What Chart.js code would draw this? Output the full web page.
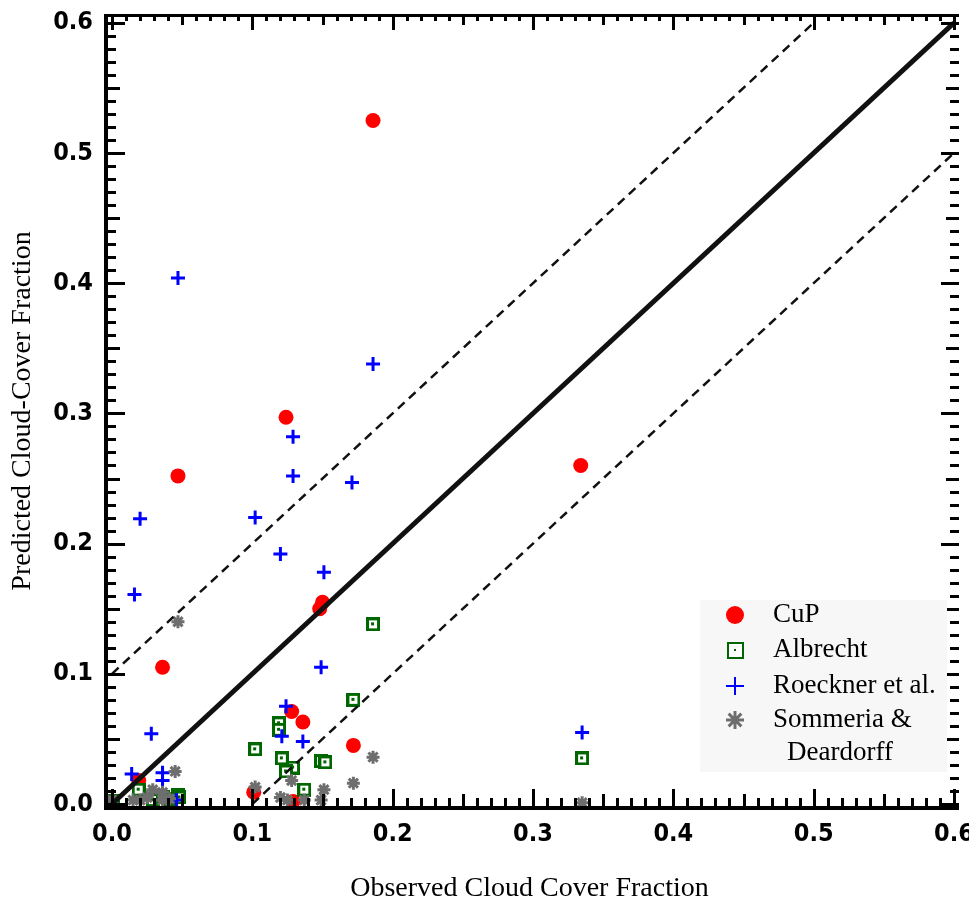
<!DOCTYPE html>
<html>
<head>
<meta charset="utf-8">
<script src="https://cdn.jsdelivr.net/npm/chart.js@4/dist/chart.umd.min.js"></script>
<style>
html,body{margin:0;padding:0;background:#fff;}
#wrap{width:969px;height:905px;position:relative;}
</style>
</head>
<body>
<div id="wrap"><canvas id="c" width="969" height="905"></canvas></div>
<script>
// ---- Data ----
const tickValues = [0, 0.1, 0.2, 0.3, 0.4, 0.5, 0.6];
const tickLabels = ['0.0', '0.1', '0.2', '0.3', '0.4', '0.5', '0.6'];

const seriesNames = ['CuP', 'Albrecht', 'Roeckner et al.', 'Sommeria &', 'Deardorff'];

const cupX = [0.186, 0.124, 0.047, 0.334, 0.036, 0.150, 0.148, 0.128, 0.136, 0.172, 0.101, 0.129, 0.019];
const cupY = [0.525, 0.297, 0.252, 0.260, 0.105, 0.155, 0.150, 0.071, 0.063, 0.045, 0.009, 0.002, 0.018];

const albX = [0.186, 0.335, 0.172, 0.119, 0.119, 0.102, 0.121, 0.129, 0.124, 0.149, 0.152, 0.137, 0.019, 0.029, 0.047, 0.048, 0.001, 0.036, 0.041];
const albY = [0.138, 0.035, 0.080, 0.062, 0.057, 0.042, 0.035, 0.028, 0.025, 0.033, 0.032, 0.011, 0.011, 0.003, 0.007, 0.005, 0.002, 0.005, 0.004];

const roeX = [0.047, 0.186, 0.129, 0.129, 0.171, 0.020, 0.102, 0.120, 0.151, 0.016, 0.149, 0.124, 0.028, 0.335, 0.121, 0.136, 0.014, 0.036, 0.036, 0.046];
const roeY = [0.404, 0.338, 0.282, 0.252, 0.247, 0.219, 0.220, 0.192, 0.178, 0.161, 0.105, 0.075, 0.054, 0.055, 0.052, 0.048, 0.023, 0.024, 0.018, 0.003];

const somX = [0.047, 0.335, 0.045, 0.186, 0.172, 0.102, 0.128, 0.151, 0.149, 0.120, 0.125, 0.137, 0.029, 0.036, 0.015, 0.020, 0.036, 0.041, 0.000, 0.025];
const somY = [0.140, 0.001, 0.025, 0.036, 0.016, 0.013, 0.018, 0.011, 0.003, 0.005, 0.003, 0.003, 0.011, 0.009, 0.003, 0.003, 0.003, 0.004, 0.003, 0.005];

const oneToOneX = [0, 0.6];
const oneToOneY = [0, 0.6];
const upperX = [0, 0.5];
const upperY = [0.1, 0.6];
const lowerX = [0.1, 0.6];
const lowerY = [0, 0.5];

// ---- helpers ----
const pts = (xs, ys) => xs.map((x, i) => ({x: x, y: ys[i]}));

const RED = '#ff0000', GREEN = '#006600', BLUE = '#0000ff', GRAY = '#6e6e6e';

function makeAlbrecht(size, bw, dot) {
  const cv = document.createElement('canvas');
  cv.width = size; cv.height = size;
  const g = cv.getContext('2d');
  g.fillStyle = '#ffffff';
  g.fillRect(0, 0, size, size);
  g.strokeStyle = GREEN;
  g.lineWidth = bw;
  g.strokeRect(bw / 2, bw / 2, size - bw, size - bw);
  g.fillStyle = GREEN;
  const c = Math.floor((size - dot) / 2);
  g.fillRect(c, c, dot, dot);
  return cv;
}
const albStyle = makeAlbrecht(14, 3, 3);
const albLegendStyle = makeAlbrecht(17, 2, 2);

const FONT_TICK = "'DejaVu Sans Condensed', 'DejaVu Sans', sans-serif";
const FONT_SERIF = "'Liberation Serif', 'DejaVu Serif', serif";

// ---- axis frame + inward ticks + legend ----
const framePlugin = {
  id: 'frame',
  afterDraw(chart) {
    const ctx = chart.ctx;
    const xs = chart.scales.x, ys = chart.scales.y;
    const a = chart.chartArea;
    ctx.save();
    ctx.fillStyle = '#000';
    ctx.fillRect(a.left - 1, a.top - 1, 4, a.bottom - a.top + 3);          // left
    ctx.fillRect(a.left - 1, a.bottom - 1, a.right - a.left + 6, 4);       // bottom
    ctx.fillRect(a.left - 1, a.top - 1, a.right - a.left + 6, 3);          // top
    for (let i = 0; i <= 60; i++) {
      const v = i / 100;
      const len = (i % 10 === 0) ? 18 : (i % 5 === 0 ? 13 : 9);
      const px = Math.round(xs.getPixelForValue(v));
      const py = Math.round(ys.getPixelForValue(v));
      ctx.fillRect(px - 1, a.bottom - len, 3, len);
      ctx.fillRect(px - 1, a.top, 3, len - 3);
      ctx.fillRect(a.left, py - 1, len + 2, 3);
      ctx.fillRect(a.right + 5 - len, py - 1, len, 3);
    }
    ctx.restore();

    // legend
    ctx.save();
    ctx.fillStyle = '#f7f7f7';
    ctx.fillRect(700, 600, 247, 172);
    ctx.font = '27px ' + FONT_SERIF;
    ctx.textBaseline = 'middle';
    ctx.textAlign = 'left';
    const rows = [615, 650, 686, 720];
    const mx = 735;
    const dsIdx = [4, 3, 2, 1];
    for (let r = 0; r < 4; r++) {
      const ds = chart.data.datasets[dsIdx[r]];
      const y = rows[r];
      if (r === 0) {
        ctx.fillStyle = RED; ctx.beginPath(); ctx.arc(mx, y, 9, 0, Math.PI * 2); ctx.fill();
      } else if (r === 1) {
        ctx.drawImage(albLegendStyle, mx - 8, y - 8);
      } else if (r === 2) {
        ctx.strokeStyle = BLUE; ctx.lineWidth = 2;
        ctx.beginPath(); ctx.moveTo(mx - 9, y); ctx.lineTo(mx + 9, y); ctx.moveTo(mx, y - 9); ctx.lineTo(mx, y + 9); ctx.stroke();
      } else {
        ctx.strokeStyle = GRAY; ctx.lineWidth = 3;
        Chart.helpers.drawPoint(ctx, {pointStyle: 'star', radius: 9, borderWidth: 3}, mx, y);
      }
      ctx.fillStyle = '#000';
      ctx.fillText(ds.label, 773, y);
    }
    ctx.fillText(seriesNames[4], 787, 753);
    ctx.restore();
  }
};

const lineDs = (label, xs, ys, w, dash) => ({
  type: 'line', label: label, data: pts(xs, ys),
  borderColor: '#111', borderWidth: w, borderDash: dash,
  pointRadius: 0, fill: false, order: 0, tension: 0
});

new Chart(document.getElementById('c'), {
  type: 'scatter',
  data: {
    datasets: [
      lineDs('1:1', oneToOneX, oneToOneY, 5, []),
      {label: seriesNames[3], data: pts(somX, somY), pointStyle: 'star', radius: 6.5, borderWidth: 3, borderColor: GRAY, backgroundColor: GRAY, order: 1},
      {label: seriesNames[2], data: pts(roeX, roeY), pointStyle: 'cross', radius: 7, borderWidth: 3, borderColor: BLUE, backgroundColor: BLUE, order: 2},
      {label: seriesNames[1], data: pts(albX, albY), pointStyle: albStyle, radius: 7, order: 3},
      {label: seriesNames[0], data: pts(cupX, cupY), pointStyle: 'circle', radius: 7.5, borderWidth: 0, backgroundColor: RED, borderColor: RED, order: 4},
      lineDs('+0.1', upperX, upperY, 2.5, [9, 6]),
      lineDs('-0.1', lowerX, lowerY, 2.5, [9, 6])
    ]
  },
  options: {
    responsive: false,
    animation: false,
    devicePixelRatio: 1,
    layout: {padding: {left: 0, right: 15, top: 15, bottom: 0}},
    plugins: {legend: {display: false}, tooltip: {enabled: false}},
    scales: {
      x: {
        type: 'linear', min: -0.005, max: 0.6,
        grid: {display: false, drawTicks: false}, border: {display: false},
        afterBuildTicks: s => { s.ticks = tickValues.map(v => ({value: v})); },
        afterFit: s => { s.height = 98; s.paddingLeft = 0; s.paddingRight = 0; },
        ticks: {
          padding: 12, color: '#000', maxRotation: 0, autoSkip: false,
          font: {family: FONT_TICK, size: 25, weight: 'bold'},
          callback: (v) => tickLabels[tickValues.indexOf(Math.round(v * 10) / 10)]
        },
        title: {display: true, text: 'Observed Cloud Cover Fraction', color: '#000',
          font: {family: FONT_SERIF, size: 28}, padding: {top: 0, bottom: 0}}
      },
      y: {
        type: 'linear', min: -0.0023, max: 0.606,
        grid: {display: false, drawTicks: false}, border: {display: false},
        afterBuildTicks: s => { s.ticks = tickValues.map(v => ({value: v})); },
        afterFit: s => { s.width = 105; s.paddingTop = 0; s.paddingBottom = 0; },
        ticks: {
          padding: 12, color: '#000', autoSkip: false,
          font: {family: FONT_TICK, size: 25, weight: 'bold'},
          callback: (v) => tickLabels[tickValues.indexOf(Math.round(v * 10) / 10)]
        },
        title: {display: true, text: 'Predicted Cloud-Cover Fraction', color: '#000',
          font: {family: FONT_SERIF, size: 28}, padding: {top: 6, bottom: 0}}
      }
    }
  },
  plugins: [framePlugin]
});
</script>
</body>
</html>
